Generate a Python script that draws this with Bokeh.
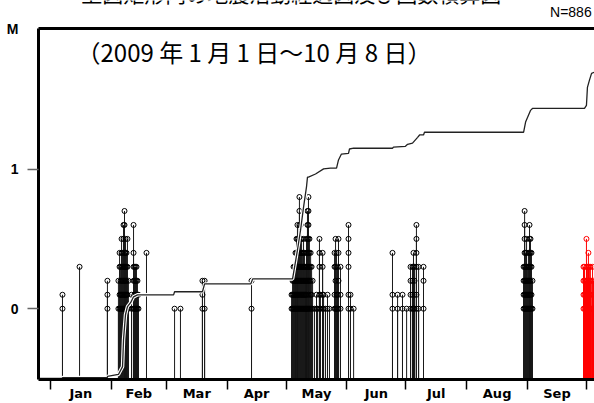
from bokeh.plotting import figure
from bokeh.models import Range1d, LinearAxis, FixedTicker, Label
from bokeh.layouts import column
from bokeh.core.properties import value
from bokeh.embed import file_html
from bokeh.resources import INLINE

# ---- data (day of year, 0 = Jan 1 2009) ----
quake_day = [6.1, 14.8, 29.0,
             34.6, 35.2, 35.7, 36.2, 36.7, 37.2, 37.7, 38.2, 38.7, 39.2, 39.7,
             41.3, 42.3, 42.8, 43.3, 43.8, 44.3, 44.8, 48.9,
             63.2, 66.2, 77.4, 78.5, 102.4,
             122.8, 123.3, 123.8, 124.3, 124.8, 125.3, 125.8, 126.3, 126.8, 127.4,
             127.9, 128.4, 128.9, 129.4, 129.9, 130.4, 130.9, 131.4, 131.9, 132.5,
             133.0, 133.5, 134.5, 135.5, 136.0, 137.0, 137.5, 138.6, 139.1, 140.1,
             141.1, 142.1, 144.7, 145.2, 145.7, 146.2, 146.7, 147.7, 151.8, 152.8,
             154.4,
             174.2, 176.8, 179.3, 181.4, 183.4, 184.4, 184.9, 185.4, 186.4, 187.5, 190.0,
             241.0, 241.5, 242.0, 242.5, 243.0, 243.5, 244.0, 244.5, 245.0, 245.5]
quake_mags = [[0.1, 0.0], [0.3], [0.2, 0.1, 0.0],
              [0.2, 0.0], [0.4, 0.3, 0.1, 0.0], [0.3, 0.2, 0.1, 0.0], [0.5, 0.4, 0.2, 0.1, 0.0],
              [0.4, 0.3, 0.2, 0.1, 0.0], [0.6, 0.5, 0.3, 0.2, 0.1, 0.0],
              [0.7, 0.6, 0.4, 0.3, 0.2, 0.1, 0.0], [0.5, 0.4, 0.3, 0.2, 0.1, 0.0],
              [0.4, 0.3, 0.2, 0.1, 0.0], [0.5, 0.3, 0.1, 0.0], [0.2, 0.0],
              [0.1, 0.0], [0.6, 0.4, 0.3, 0.2, 0.0], [0.3, 0.2, 0.1, 0.0], [0.3, 0.2, 0.1, 0.0],
              [0.3, 0.2, 0.0], [0.2, 0.1, 0.0], [0.1, 0.0], [0.4],
              [0.0], [0.0], [0.2, 0.1, 0.0], [0.2, 0.0], [0.2, 0.0],
              [0.1, 0.0], [0.2, 0.1, 0.0], [0.3, 0.2, 0.1, 0.0], [0.3, 0.2, 0.1, 0.0],
              [0.4, 0.3, 0.2, 0.1, 0.0], [0.5, 0.4, 0.3, 0.2, 0.1, 0.0],
              [0.6, 0.5, 0.4, 0.3, 0.2, 0.1, 0.0], [0.5, 0.4, 0.3, 0.2, 0.1, 0.0],
              [0.8, 0.7, 0.6, 0.4, 0.3, 0.2, 0.1, 0.0], [0.6, 0.5, 0.4, 0.3, 0.2, 0.1, 0.0],
              [0.5, 0.4, 0.3, 0.2, 0.1, 0.0], [0.4, 0.3, 0.2, 0.1, 0.0],
              [0.5, 0.4, 0.3, 0.2, 0.1, 0.0], [0.4, 0.3, 0.2, 0.1, 0.0], [0.3, 0.2, 0.1, 0.0],
              [0.5, 0.4, 0.3, 0.2, 0.1, 0.0], [0.7, 0.6, 0.5, 0.4, 0.3, 0.2, 0.0],
              [0.8, 0.7, 0.6, 0.5, 0.4, 0.3, 0.2, 0.1, 0.0], [0.5, 0.4, 0.3, 0.2, 0.0],
              [0.4, 0.3, 0.2, 0.1, 0.0],
              [0.3, 0.1, 0.0], [0.2, 0.0], [0.0], [0.1, 0.0], [0.0], [0.5, 0.4, 0.3, 0.1, 0.0],
              [0.1, 0.0], [0.4, 0.3, 0.1, 0.0], [0.1, 0.0], [0.0],
              [0.1, 0.0], [0.0], [0.4, 0.3, 0.1, 0.0], [0.5, 0.3, 0.2, 0.0], [0.4, 0.1, 0.0],
              [0.3, 0.1, 0.0], [0.5, 0.4, 0.2, 0.0], [0.3, 0.1, 0.0],
              [0.6, 0.5, 0.4, 0.3, 0.1, 0.0], [0.1, 0.0],
              [0.0],
              [0.4, 0.1, 0.0], [0.1, 0.0], [0.1, 0.0], [0.0], [0.3, 0.2, 0.1, 0.0],
              [0.3, 0.2, 0.1, 0.0], [0.4, 0.3, 0.0], [0.3, 0.2, 0.1, 0.0],
              [0.6, 0.5, 0.4, 0.3, 0.1, 0.0], [0.3, 0.0], [0.3, 0.2, 0.0],
              [0.3, 0.2, 0.1, 0.0], [0.7, 0.6, 0.5, 0.4, 0.3, 0.2, 0.1, 0.0],
              [0.4, 0.3, 0.2, 0.1, 0.0], [0.5, 0.4, 0.3, 0.2, 0.1, 0.0], [0.3, 0.2, 0.1, 0.0],
              [0.4, 0.3, 0.2, 0.1, 0.0], [0.6, 0.5, 0.4, 0.3, 0.2, 0.1, 0.0],
              [0.5, 0.4, 0.3, 0.2, 0.1, 0.0], [0.4, 0.3, 0.1, 0.0], [0.2, 0.0]]

# latest events (shown in red)
recent_day = [271.5, 272.0, 272.5, 273.0, 273.5, 274.0, 274.5, 275.0, 275.5, 276.1, 276.6]
recent_mags = [[0.3, 0.2, 0.1, 0.0], [0.3, 0.2, 0.1, 0.0], [0.2, 0.1, 0.0],
               [0.5, 0.3, 0.2, 0.1, 0.0], [0.3, 0.2, 0.1, 0.0], [0.4, 0.3, 0.2, 0.1, 0.0],
               [0.3, 0.2, 0.1, 0.0], [0.3, 0.2, 0.1, 0.0], [0.2, 0.0], [0.3, 0.1, 0.0],
               [0.2, 0.0]]

# cumulative number of events
cum_day = [-6.1, 6.1, 6.1, 29.0, 29.0, 34.6, 36.7, 37.2, 38.2, 39.2, 40.8, 42.3, 44.3,
           62.7, 63.2, 77.4, 78.5, 102.0, 103.0, 123.3, 125.8, 127.4, 128.9, 130.4,
           130.9, 131.4, 135.0, 139.1, 142.6, 145.7, 146.7, 148.2, 151.8, 152.3, 154.4,
           174.2, 174.7, 180.8, 181.9, 184.4, 187.0, 188.0, 190.0, 190.5, 241.0, 242.0,
           244.5, 245.5, 272.0, 273.0, 273.5, 274.5, 275.6, 277.1]
cum_count = [3, 3, 5, 5, 8, 13, 33, 102, 166, 187, 197, 212, 217,
             217, 225, 225, 245, 245, 258, 258, 332, 384, 442, 494,
             519, 519, 527, 540, 542, 542, 563, 578, 580, 591, 593,
             593, 596, 598, 603, 606, 621, 627, 627, 634, 634, 660,
             690, 695, 695, 703, 749, 767, 785, 788]

month_start = [0, 31, 59, 90, 120, 151, 181, 212, 243, 273]
month_names = ["Jan", "Feb", "Mar", "Apr", "May", "Jun", "Jul", "Aug", "Sep"]
mag_ticks = [0, 1, 2]
mag_labels = {0: "0", 1: "1", 2: "M"}

title_text = "上図矩形内の地震活動経過図及び回数積算図"
period_text = "（2009 年 1 月 1 日～10 月 8 日）"
count_text = "N=886"

# ---- header strip (title, which is cut at the page top, and event count) ----
head = figure(width=594, height=20, output_backend="svg", toolbar_location=None,
              x_range=Range1d(0, 594), y_range=Range1d(0, 20),
              x_axis_location=None, y_axis_location=None,
              min_border_left=0, min_border_right=0, min_border_top=0, min_border_bottom=0)
head.outline_line_color = None
head.xgrid.visible = False
head.ygrid.visible = False
head.text(x=[270], y=[13], text=[title_text], text_font=value("Noto Sans CJK JP"),
          text_font_size="21px", text_align="center", text_baseline="bottom",
          text_color="black")
head.text(x=[591], y=[9], text=[count_text], text_font=value("Liberation Sans"),
          text_font_size="14px", text_align="right", text_baseline="middle",
          text_color="black")

# ---- main figure ----
Y0, Y1 = -0.507, 2.007
p = figure(width=594, height=383, output_backend="svg", toolbar_location=None,
           x_range=Range1d(-6.11, 277.1), y_range=Range1d(Y0, Y1),
           x_axis_location=None, y_axis_location=None,
           min_border_left=38, min_border_right=0, min_border_top=8, min_border_bottom=23)
p.extra_y_ranges = {"cnt": Range1d(0, 900)}
p.outline_line_color = None
p.xgrid.visible = False
p.ygrid.visible = False

def flat(days, mags):
    xs, ys = [], []
    for d, ms in zip(days, mags):
        for m in ms:
            xs.append(d)
            ys.append(m)
    return xs, ys

bx, by = flat(quake_day, quake_mags)
rx, ry = flat(recent_day, recent_mags)

p.segment(x0=bx, y0=[Y0] * len(bx), x1=bx, y1=by, line_color="#1a1a1a", line_width=1)
p.segment(x0=rx, y0=[Y0] * len(rx), x1=rx, y1=ry, line_color="red", line_width=1)
p.scatter(bx, by, size=5, fill_alpha=0, line_color="black", line_width=1)
p.scatter(rx, ry, size=5, fill_alpha=0, line_color="red", line_width=1)

p.line(cum_day, cum_count, y_range_name="cnt", line_color="white", line_width=3.5)
p.line(cum_day, cum_count, y_range_name="cnt", line_color="#222222", line_width=1.3)

# left magnitude axis ("M" label at the top, tick marks only at 0 and 1)
yax = LinearAxis(ticker=FixedTicker(ticks=mag_ticks, minor_ticks=[0, 1]))
yax.major_label_overrides = mag_labels
yax.axis_line_width = 3
yax.axis_line_color = "black"
yax.major_tick_out = 0
yax.major_tick_in = 0
yax.major_tick_line_color = None
yax.minor_tick_out = 11
yax.minor_tick_in = 0
yax.minor_tick_line_color = "#666666"
yax.minor_tick_line_width = 1.5
yax.major_label_standoff = 9
yax.major_label_text_font = "Liberation Sans"
yax.major_label_text_font_style = "bold"
yax.major_label_text_font_size = "14px"
yax.major_label_text_color = "black"
p.add_layout(yax, "left")

# bottom month axis
mids = [(month_start[i] + month_start[i + 1]) / 2 for i in range(len(month_names))]
xax = LinearAxis(ticker=FixedTicker(ticks=mids, minor_ticks=month_start))
xax.major_label_overrides = {m: n for m, n in zip(mids, month_names)}
xax.axis_line_width = 3
xax.axis_line_color = "black"
xax.major_tick_out = 0
xax.major_tick_in = 0
xax.major_tick_line_color = None
xax.minor_tick_out = 10
xax.minor_tick_in = 0
xax.minor_tick_line_color = "black"
xax.minor_tick_line_width = 1.5
xax.major_label_standoff = -4
xax.major_label_text_font = "DejaVu Sans"
xax.major_label_text_font_style = "bold"
xax.major_label_text_font_size = "13px"
xax.major_label_text_color = "black"
p.add_layout(xax, "below")

# top frame line
tax = LinearAxis(ticker=FixedTicker(ticks=[]))
tax.axis_line_width = 3
tax.axis_line_color = "black"
tax.major_tick_out = 0
tax.major_tick_in = 0
tax.minor_tick_line_color = None
tax.major_label_standoff = 0
tax.major_label_text_font_size = "0px"
p.add_layout(tax, "above")

p.add_layout(Label(x=38, y=328, x_units="screen", y_units="screen", text=period_text,
                   text_font="Noto Sans CJK JP", text_font_size="24px",
                   text_align="left", text_baseline="middle", text_color="black"))

layout = column(head, p, spacing=0)
open("out.html", "w").write(file_html(layout, INLINE))
